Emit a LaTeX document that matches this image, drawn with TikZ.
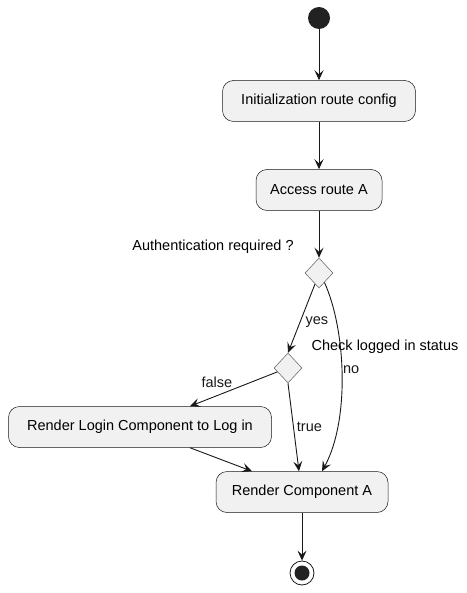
\documentclass[tikz,border=0pt]{standalone}
\usepackage{fontspec}
\setmainfont{Liberation Sans}
\usetikzlibrary{shapes.geometric,arrows.meta}
\definecolor{actfill}{HTML}{F1F1F1}
\definecolor{actline}{HTML}{181818}
\definecolor{dotfill}{HTML}{222222}
\begin{document}
\begin{tikzpicture}[x=1pt, y=-1pt, font=\fontsize{14.5}{17}\selectfont,
    act/.style={draw=actline, rounded corners=11pt, fill=actfill,
                minimum height=41pt, inner xsep=6pt, align=center, line width=0.5pt},
    choice/.style={draw=actline!70, diamond, fill=actfill, inner sep=0pt,
                minimum width=28pt, minimum height=30pt, line width=0.5pt},
    flow/.style={-{Stealth[length=10pt, width=9pt, inset=4pt]}, line width=0.9pt, actline},
    lbl/.style={inner sep=1pt},
  ]
    \useasboundingbox (0,0) rectangle (466,593);

    % Start und Ende
    \node[circle, fill=dotfill, minimum size=22pt, inner sep=0pt] (start) at (319,18) {};
    \node[circle, draw=actline, line width=0.8pt, minimum size=24pt, inner sep=0pt] (stop) at (302,573) {};
    \node[circle, fill=dotfill, minimum size=15pt, inner sep=0pt] (stopdot) at (302,573) {};

    % Aktionen
    \node[act, minimum width=193pt] (init) at (319,101) {Initialization route config};
    \node[act, minimum width=126pt] (access) at (319,190) {Access route A};
    \node[act, minimum width=263pt] (login) at (140,427) {Render Login Component to Log in};
    \node[act, minimum width=172pt] (render) at (302,492) {Render Component A};

    % Verzweigungen
    \node[choice] (auth) at (319,273) {};
    \node[choice] (logged) at (288,368) {};
    \node[lbl] (authq) at (213,247) {Authentication required ?};
    \node[lbl] (loggedq) at (385,347) {Check logged in status};

    % Pfeile
    \draw[flow] (start) -- (init);
    \draw[flow] (init) -- (access);
    \draw[flow] (access) -- (auth);
    \draw[flow] (auth.-110) -- (logged.north)
      node[lbl, pos=0.55, right=4pt] (yes) {yes};
    \draw[flow] (auth.-60) .. controls (346,330) and (350,420) .. ([xshift=20pt]render.north)
      node[lbl, pos=0.47, right] (no) {no};
    \draw[flow] (logged.-160) -- ([xshift=50pt]login.north)
      node[lbl, pos=0.5, above left] (false) {false};
    \draw[flow] (logged.south) -- ([xshift=-3pt]render.north)
      node[lbl, pos=0.5, right=2pt] (true) {true};
    \draw[flow] ([xshift=50pt]login.south) -- ([xshift=-50pt]render.north);
    \draw[flow] (render) -- (stop);
  \end{tikzpicture}
\end{document}
